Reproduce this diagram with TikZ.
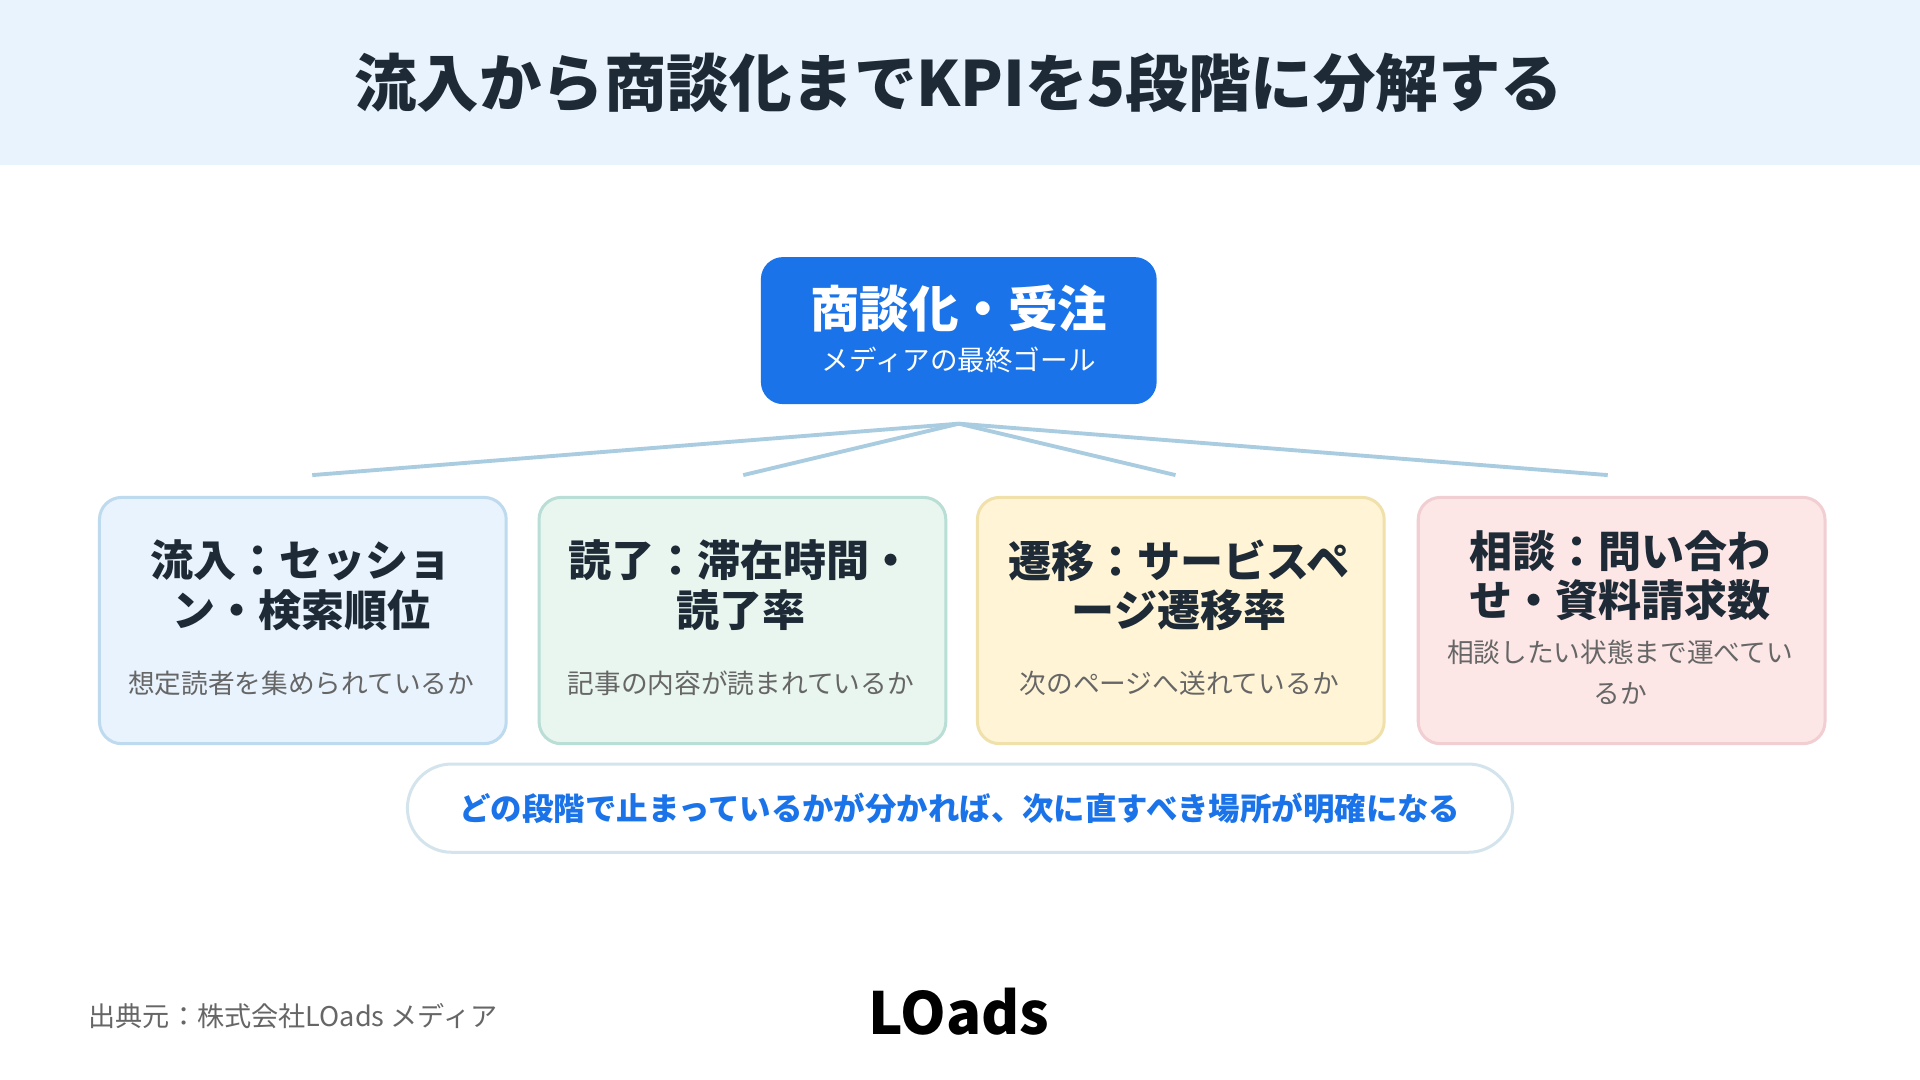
\documentclass[tikz,border=0pt]{standalone}
\usepackage{fontspec}
\setmainfont{Noto Sans CJK JP}
\usetikzlibrary{positioning}
\definecolor{hdrbg}{HTML}{E8F3FD}
\definecolor{goalblue}{HTML}{1A73E8}
\definecolor{linkc}{HTML}{A9CCE0}
\definecolor{subgray}{HTML}{666666}
\definecolor{titleink}{HTML}{1E2A36}
\tikzset{
  stage/.style={draw, line width=0.7pt, rounded corners=0.18cm,
    minimum width=3.32cm, minimum height=2.01cm, anchor=north west},
  stagetitle/.style={font=\fontsize{10}{11.5}\selectfont\bfseries, text=titleink,
    align=center},
  stagenote/.style={font=\fontsize{6.2}{9.5}\selectfont, text=subgray,
    align=center},
  link/.style={draw=linkc, line width=0.9pt}
}
\begin{document}
\begin{tikzpicture}[x=0.01cm,y=-0.01cm]
  \useasboundingbox (0,0) rectangle (1568,882);
  \fill[white] (0,0) rectangle (1568,882);
  \fill[hdrbg] (0,0) rectangle (1568,135);
  \node[font=\fontsize{14.5}{16}\selectfont\bfseries, text=titleink] (title) at (783,68)
    {流入から商談化までKPIを5段階に分解する};

  % goal
  \node[fill=goalblue, rounded corners=0.18cm, minimum width=3.23cm, minimum height=1.2cm]
    (goal) at (783,270) {};
  \node[font=\fontsize{11.5}{14}\selectfont\bfseries, text=white] (goalt) at (783,252) {商談化・受注};
  \node[font=\fontsize{6.4}{8}\selectfont, text=white] (goals) at (783,294) {メディアの最終ゴール};

  % stages
  \node[stage, draw={rgb,255:red,190;green,218;blue,238}, fill=hdrbg] (s1) at (80,405) {};
  \node[stage, draw={rgb,255:red,184;green,222;blue,214}, fill={rgb,255:red,232;green,246;blue,239}] (s2) at (439,405) {};
  \node[stage, draw={rgb,255:red,240;green,224;blue,170}, fill={rgb,255:red,255;green,245;blue,214}] (s3) at (797,405) {};
  \node[stage, draw={rgb,255:red,240;green,206;blue,210}, fill={rgb,255:red,253;green,230;blue,230}] (s4) at (1157,405) {};

  \node[stagetitle] (t1) at (246,478) {流入：セッショ\\ン・検索順位};
  \node[stagetitle] (t2) at (605,478) {読了：滞在時間・\\読了率};
  \node[stagetitle] (t3) at (963,478) {遷移：サービスペ\\ージ遷移率};
  \node[stagetitle] (t4) at (1323,470) {相談：問い合わ\\せ・資料請求数};
  \node[stagenote] (n1) at (246,558) {想定読者を集められているか};
  \node[stagenote] (n2) at (605,558) {記事の内容が読まれているか};
  \node[stagenote] (n3) at (963,558) {次のページへ送れているか};
  \node[stagenote] (n4) at (1323,549) {相談したい状態まで運べてい\\るか};

  % links
  \coordinate (hub) at (783,346);
  \coordinate (e1) at (255,388);
  \coordinate (e2) at (607,388);
  \coordinate (e3) at (960,388);
  \coordinate (e4) at (1313,388);
  \foreach \e in {e1,e2,e3,e4}
    \draw[link] (hub) -- (\e);

  % note
  \node[draw={rgb,255:red,212;green,228;blue,236}, line width=0.7pt, fill=white,
    rounded corners=0.36cm, minimum width=9.02cm, minimum height=0.72cm,
    font=\fontsize{7.3}{8}\selectfont\bfseries, text=goalblue] (hint) at (784,660)
    {どの段階で止まっているかが分かれば、次に直すべき場所が明確になる};

  % footer
  \node[anchor=west, font=\fontsize{6.3}{8}\selectfont, text=subgray] (src) at (60,830)
    {出典元：株式会社LOads メディア};
  \node[font=\fontsize{13.5}{14}\selectfont\bfseries, text=black] (logo) at (783,826) {LOads};
\end{tikzpicture}
\end{document}
